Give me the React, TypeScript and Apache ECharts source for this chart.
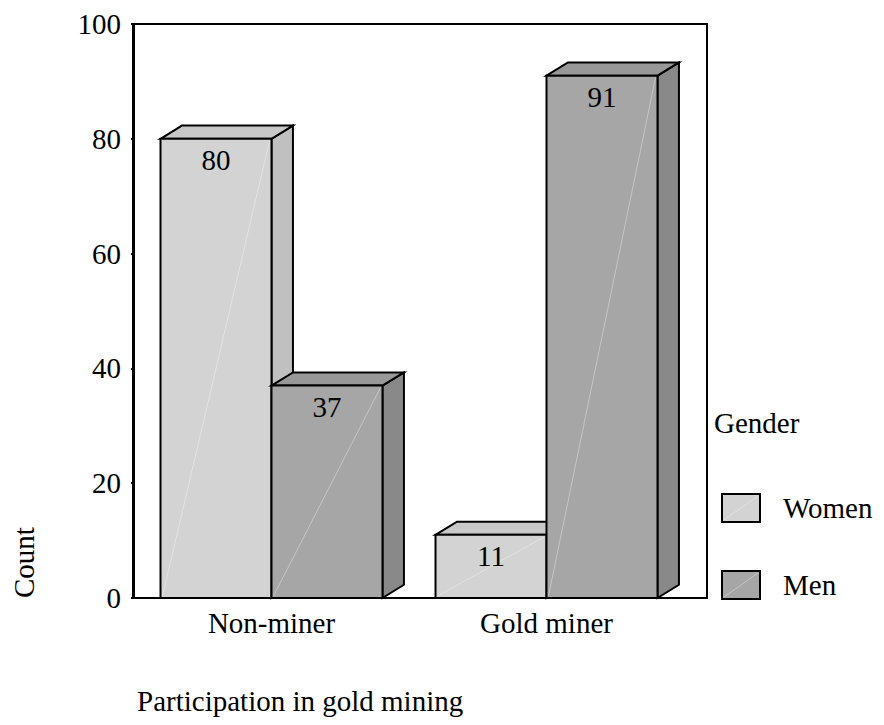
import React, { useEffect, useRef } from 'react';
import * as echarts from 'echarts';

const categories = ['Non-miner', 'Gold miner'];
const seriesNames = ['Women', 'Men'];
const womenCounts = [80, 11];
const menCounts = [37, 91];
const yTickValues = [0, 20, 40, 60, 80, 100];
const xTitle = 'Participation in gold mining';
const yTitle = 'Count';
const legendTitle = 'Gender';

const FRONT = ['#d3d3d3', '#a6a6a6'];
const SIDE = ['#c0c0c0', '#898989'];
const TOP = ['#c8c8c8', '#989898'];
const FONT = "'Liberation Serif', 'Times New Roman', serif";
const FS = 29;

export default function App() {
  const ref = useRef<HTMLDivElement>(null);
  useEffect(() => {
    document.body.style.margin = '0';
    const chart = echarts.init(ref.current!, null, { renderer: 'svg' });
    const seriesData = [womenCounts, menCounts];

    const renderItem = (params: any, api: any) => {
      const si = params.seriesIndex;
      const cat = api.value(0);
      const val = api.value(1);
      const base = api.coord([cat, 0]);
      const top = api.coord([cat, val]);
      const band = api.size([1, 0])[0];
      const w = band * 0.4036;
      const dx = band * 0.078;
      const dy = band * 0.048;
      const x0 = si === 0 ? base[0] - w : base[0];
      const x1 = x0 + w;
      const yb = base[1];
      const yt = top[1];
      return {
        type: 'group',
        children: [
          {
            type: 'polygon',
            shape: { points: [[x1, yb], [x1 + dx, yb - dy], [x1 + dx, yt - dy], [x1, yt]] },
            style: { fill: SIDE[si], stroke: '#000', lineWidth: 2 },
          },
          {
            type: 'polygon',
            shape: { points: [[x0, yt], [x0 + dx, yt - dy], [x1 + dx, yt - dy], [x1, yt]] },
            style: { fill: TOP[si], stroke: '#000', lineWidth: 2 },
          },
          {
            type: 'rect',
            shape: { x: x0, y: yt, width: w, height: yb - yt },
            style: { fill: FRONT[si], stroke: '#000', lineWidth: 2 },
          },
          {
            type: 'line',
            shape: { x1: x0 + 2, y1: yb - 2, x2: x1 - 2, y2: yt + 2 },
            style: { stroke: 'rgba(255,255,255,0.35)', lineWidth: 1 },
          },
          {
            type: 'text',
            style: {
              text: String(val),
              x: (x0 + x1) / 2,
              y: yt + 21,
              align: 'center',
              verticalAlign: 'middle',
              fontSize: FS,
              fontFamily: FONT,
              fill: '#000',
            },
          },
        ],
      };
    };

    const legendChildren: any[] = [];
    seriesNames.forEach((name, i) => {
      const y = 494 + i * 77;
      legendChildren.push({
        type: 'rect',
        shape: { x: 722, y, width: 38, height: 28 },
        style: { fill: FRONT[i], stroke: '#000', lineWidth: 2 },
      });
      legendChildren.push({
        type: 'line',
        shape: { x1: 724, y1: y + 26, x2: 758, y2: y + 2 },
        style: { stroke: 'rgba(255,255,255,0.35)', lineWidth: 1 },
      });
      legendChildren.push({
        type: 'text',
        style: {
          text: name,
          x: 783,
          y: y + 14,
          verticalAlign: 'middle',
          fontSize: FS,
          fontFamily: FONT,
          fill: '#000',
        },
      });
    });

    chart.setOption({
      animation: false,
      textStyle: { fontFamily: FONT },
      grid: { left: 134, top: 24, width: 550, height: 574 },
      xAxis: {
        type: 'category',
        data: categories,
        axisLine: { lineStyle: { color: '#000', width: 2 } },
        axisTick: { alignWithLabel: true, length: 3, lineStyle: { color: '#000', width: 2 } },
        axisLabel: { color: '#000', fontSize: FS, fontFamily: FONT, margin: 10 },
      },
      yAxis: {
        type: 'value',
        min: yTickValues[0],
        max: yTickValues[yTickValues.length - 1],
        interval: yTickValues[1] - yTickValues[0],
        axisLine: { show: true, lineStyle: { color: '#000', width: 2 } },
        axisTick: { show: true, length: 3, lineStyle: { color: '#000', width: 2 } },
        axisLabel: { color: '#000', fontSize: FS, fontFamily: FONT, margin: 13 },
        splitLine: { show: false },
      },
      series: seriesNames.map((name, si) => ({
        type: 'custom',
        name,
        renderItem,
        data: categories.map((_, ci) => [ci, seriesData[si][ci]]),
        z: 2 + si,
      })),
      graphic: [
        {
          type: 'rect',
          shape: { x: 133, y: 24, width: 574, height: 574 },
          style: { fill: 'none', stroke: '#000', lineWidth: 2 },
          z: 10,
        },
        {
          type: 'text',
          x: 24,
          y: 598,
          rotation: Math.PI / 2,
          style: {
            text: yTitle,
            align: 'left',
            verticalAlign: 'middle',
            fontSize: FS,
            fontFamily: FONT,
            fill: '#000',
          },
        },
        {
          type: 'text',
          x: 137,
          y: 701,
          style: {
            text: xTitle,
            align: 'left',
            verticalAlign: 'middle',
            fontSize: FS,
            fontFamily: FONT,
            fill: '#000',
          },
        },
        {
          type: 'text',
          x: 714,
          y: 423,
          style: {
            text: legendTitle,
            align: 'left',
            verticalAlign: 'middle',
            fontSize: FS,
            fontFamily: FONT,
            fill: '#000',
          },
        },
        ...legendChildren,
      ],
    });
    return () => chart.dispose();
  }, []);
  return <div ref={ref} style={{ width: 884, height: 725 }} />;
}
